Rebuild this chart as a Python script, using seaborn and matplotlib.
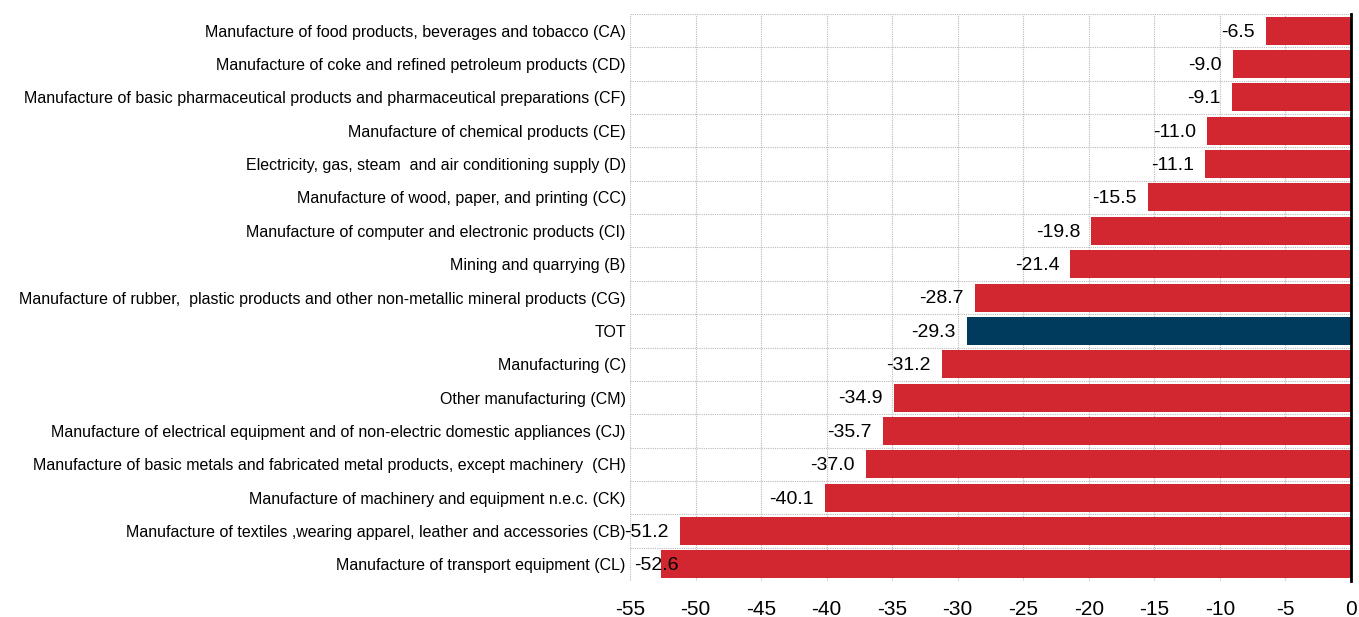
import pandas as pd
import matplotlib
matplotlib.use('Agg')
import matplotlib.pyplot as plt
import seaborn as sns
from matplotlib.ticker import MultipleLocator

sectors = [
    "Manufacture of food products, beverages and tobacco (CA)",
    "Manufacture of coke and refined petroleum products (CD)",
    "Manufacture of basic pharmaceutical products and pharmaceutical preparations (CF)",
    "Manufacture of chemical products (CE)",
    "Electricity, gas, steam  and air conditioning supply (D)",
    "Manufacture of wood, paper, and printing (CC)",
    "Manufacture of computer and electronic products (CI)",
    "Mining and quarrying (B)",
    "Manufacture of rubber,  plastic products and other non-metallic mineral products (CG)",
    "TOT",
    "Manufacturing (C)",
    "Other manufacturing (CM)",
    "Manufacture of electrical equipment and of non-electric domestic appliances (CJ)",
    "Manufacture of basic metals and fabricated metal products, except machinery  (CH)",
    "Manufacture of machinery and equipment n.e.c. (CK)",
    "Manufacture of textiles ,wearing apparel, leather and accessories (CB)",
    "Manufacture of transport equipment (CL)",
]
changes = [-6.5, -9.0, -9.1, -11.0, -11.1, -15.5, -19.8, -21.4, -28.7,
           -29.3, -31.2, -34.9, -35.7, -37.0, -40.1, -51.2, -52.6]

df = pd.DataFrame({"sector": sectors, "change": changes})
df["group"] = ["total" if s == "TOT" else "sector" for s in sectors]

plt.rcParams['font.family'] = ['Liberation Sans', 'DejaVu Sans']
plt.rcParams['axes.unicode_minus'] = False

fig = plt.figure(figsize=(13.59, 6.17), dpi=100)
ax = fig.add_axes([0.4636, 0.0583, 0.5305, 0.919])

sns.barplot(data=df, x="change", y="sector", hue="group", orient="h",
            palette={"sector": "#D22630", "total": "#003A5C"}, saturation=1,
            dodge=False, width=0.84, legend=False, ax=ax)

ax.set_xlim(-55, 0)
ax.set_ylim(len(sectors) - 0.5, -0.5)

# value labels left of the bar end, kept inside the plot area
labels = []
for i, v in enumerate(changes):
    t = ax.annotate(f"{v:.1f}", xy=(v, i), xytext=(-8, -1), textcoords="offset points",
                    ha="right", va="center", fontsize=14)
    labels.append(t)

fig.canvas.draw()
renderer = fig.canvas.get_renderer()
ax_left = ax.get_window_extent(renderer).x0
for t in labels:
    bb = t.get_window_extent(renderer)
    if bb.x0 < ax_left - 6:
        t.set_ha("left")
        t.xy = (ax.get_xlim()[0], t.xy[1])
        t.set_position((3, -1))

ax.xaxis.set_major_locator(MultipleLocator(5))
ax.set_yticks([i + 0.5 for i in range(-1, len(sectors))], minor=True)
ax.set_xlabel("")
ax.set_ylabel("")
ax.tick_params(axis="x", labelsize=15, length=0, pad=14)
ax.tick_params(axis="y", labelsize=11.5, length=0, pad=3, which="both")

ax.set_axisbelow(True)
ax.grid(axis="x", which="major", color="#BBBBBB", linestyle=(0, (1, 1)), linewidth=0.8)
ax.grid(axis="y", which="minor", color="#BBBBBB", linestyle=(0, (1, 1)), linewidth=0.8)
ax.grid(axis="y", which="major", visible=False)

for side in ["top", "left", "bottom"]:
    ax.spines[side].set_visible(False)
ax.spines["right"].set_color("black")
ax.spines["right"].set_linewidth(2)

plt.savefig("out.png", dpi=100)
plt.close()
